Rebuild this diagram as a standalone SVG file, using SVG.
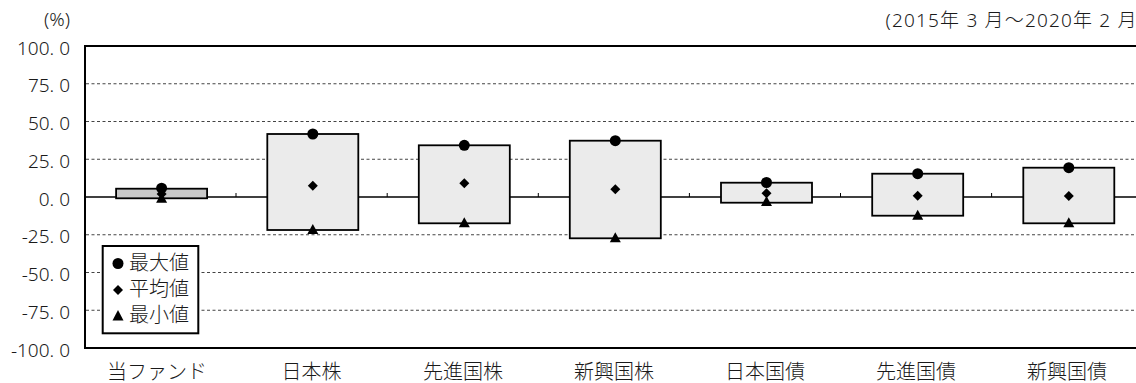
<svg xmlns="http://www.w3.org/2000/svg" width="1136" height="383" viewBox="0 0 1136 383">
<defs>
<style>
.t{font-family:"Noto Sans","Noto Sans CJK JP",sans-serif;fill:#1a1a1a;font-weight:300;}
.num{font-size:19px;text-anchor:end;}
.cat{font-size:20px;text-anchor:middle;}
.leg{font-size:20px;}
.grid{stroke:#444;stroke-width:1;stroke-dasharray:3 2.5;fill:none;}
.axis{stroke:#000;stroke-width:2;fill:none;}
.zero{stroke:#000;stroke-width:1.6;fill:none;}
.tick{stroke:#000;stroke-width:1;}
.box{fill:#ebebeb;stroke:#000;stroke-width:1.8;}
.box0{fill:#c8c8c8;stroke:#000;stroke-width:1.8;}
.mk{fill:#000;}
</style>
<circle id="mx" r="5.5" class="mk"/>
<path id="mn" d="M0,-5 L5,0 L0,5 L-5,0 Z" class="mk"/>
<path id="mi" d="M0,-6 L5.5,4 L-5.5,4 Z" class="mk"/>
</defs>
<rect width="1136" height="383" fill="#fff"/>

<g id="titles">
<text class="t" x="70" y="25.5" font-size="19" text-anchor="end">(%)</text>
<text class="t" x="885.5" y="27" font-size="19" textLength="251" lengthAdjust="spacing">(2015年 3 月～2020年 2 月</text>
</g>

<g id="grid">
<line class="grid" x1="86" y1="83.75" x2="1136" y2="83.75"/>
<line class="grid" x1="86" y1="121.5" x2="1136" y2="121.5"/>
<line class="grid" x1="86" y1="159.25" x2="1136" y2="159.25"/>
<line class="grid" x1="86" y1="234.75" x2="1136" y2="234.75"/>
<line class="grid" x1="86" y1="272.5" x2="1136" y2="272.5"/>
<line class="grid" x1="86" y1="310.25" x2="1136" y2="310.25"/>
</g>

<g id="axes">
<path class="axis" d="M1140,46 H85 V348 H1140"/>
<line class="zero" x1="85" y1="197" x2="1136" y2="197"/>
<line class="tick" x1="236" y1="193" x2="236" y2="197"/>
<line class="tick" x1="387.2" y1="193" x2="387.2" y2="197"/>
<line class="tick" x1="538.3" y1="193" x2="538.3" y2="197"/>
<line class="tick" x1="689.4" y1="193" x2="689.4" y2="197"/>
<line class="tick" x1="840.5" y1="193" x2="840.5" y2="197"/>
<line class="tick" x1="991.6" y1="193" x2="991.6" y2="197"/>
</g>

<g id="ylabels" class="t num">
<text x="70" y="54.5">100. 0</text>
<text x="70" y="92.25">75. 0</text>
<text x="70" y="130">50. 0</text>
<text x="70" y="167.75">25. 0</text>
<text x="70" y="205.5">0. 0</text>
<text x="70" y="243.25">-25. 0</text>
<text x="70" y="281">-50. 0</text>
<text x="70" y="318.75">-75. 0</text>
<text x="70" y="356.5">-100. 0</text>
</g>

<g id="fund">
<rect class="box0" x="116.1" y="188.7" width="91" height="9.6"/>
<use href="#mx" x="161.6" y="188.2"/>
<use href="#mn" x="161.6" y="194"/>
<use href="#mi" x="161.6" y="198.8"/>
<text class="t cat" x="157" y="379">当ファンド</text>
</g>

<g id="jp-equity">
<rect class="box" x="267.3" y="134" width="91" height="96"/>
<use href="#mx" x="312.8" y="134"/>
<use href="#mn" x="312.8" y="185.7"/>
<use href="#mi" x="312.8" y="230"/>
<text class="t cat" x="311.5" y="379">日本株</text>
</g>

<g id="dev-equity">
<rect class="box" x="418.8" y="145.3" width="91" height="78"/>
<use href="#mx" x="464.3" y="145.3"/>
<use href="#mn" x="464.3" y="183.3"/>
<use href="#mi" x="464.3" y="223.3"/>
<text class="t cat" x="463" y="379">先進国株</text>
</g>

<g id="em-equity">
<rect class="box" x="569.8" y="140.7" width="91" height="97.6"/>
<use href="#mx" x="615.3" y="140.7"/>
<use href="#mn" x="615.3" y="189.3"/>
<use href="#mi" x="615.3" y="238.3"/>
<text class="t cat" x="614" y="379">新興国株</text>
</g>

<g id="jp-bond">
<rect class="box" x="721" y="182.7" width="91" height="20"/>
<use href="#mx" x="766.5" y="182.5"/>
<use href="#mn" x="766.5" y="193.3"/>
<use href="#mi" x="766.5" y="202"/>
<text class="t cat" x="765" y="379">日本国債</text>
</g>

<g id="dev-bond">
<rect class="box" x="872.2" y="173.7" width="91" height="42"/>
<use href="#mx" x="917.7" y="173.7"/>
<use href="#mn" x="917.7" y="195.7"/>
<use href="#mi" x="917.7" y="215.7"/>
<text class="t cat" x="916" y="379">先進国債</text>
</g>

<g id="em-bond">
<rect class="box" x="1023.3" y="167.7" width="91" height="55.6"/>
<use href="#mx" x="1068.8" y="167.7"/>
<use href="#mn" x="1068.8" y="196"/>
<use href="#mi" x="1068.8" y="223.3"/>
<text class="t cat" x="1067" y="379">新興国債</text>
</g>

<g id="legend">
<rect x="102.7" y="246" width="95.6" height="87.3" fill="#fff" stroke="#000" stroke-width="2"/>
<circle cx="118" cy="263.5" r="5.5" class="mk"/>
<path d="M118,285 L123,290 L118,295 L113,290 Z" class="mk"/>
<path d="M118,310 L123.5,320.5 L112.5,320.5 Z" class="mk"/>
<text class="t leg" x="129" y="270">最大値</text>
<text class="t leg" x="129" y="296">平均値</text>
<text class="t leg" x="129" y="322">最小値</text>
</g>
</svg>
